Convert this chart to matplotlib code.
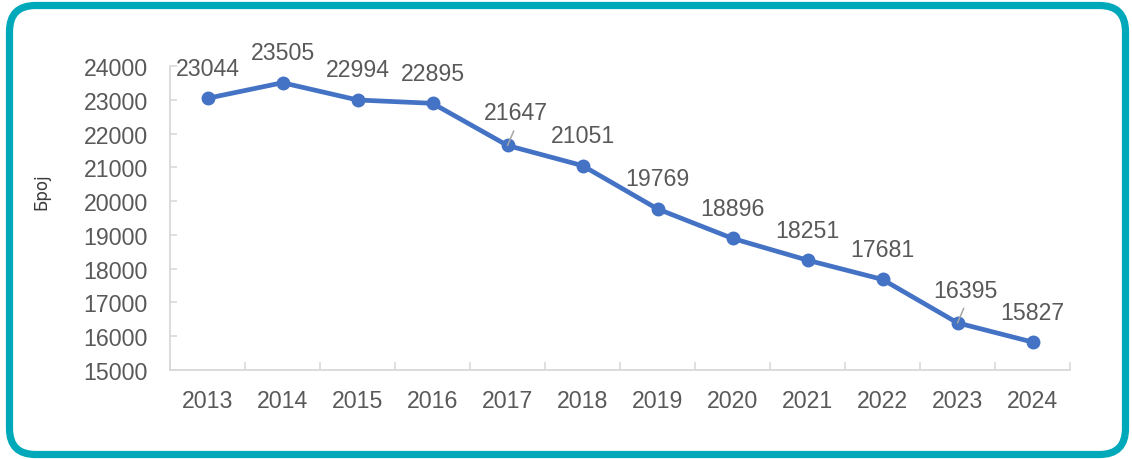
import matplotlib
matplotlib.use("Agg")
import matplotlib.pyplot as plt
from matplotlib.patches import FancyBboxPatch
from matplotlib.transforms import IdentityTransform

years = ["2013", "2014", "2015", "2016", "2017", "2018", "2019", "2020", "2021", "2022", "2023", "2024"]
values = [23044, 23505, 22994, 22895, 21647, 21051, 19769, 18896, 18251, 17681, 16395, 15827]
y_ticks = [15000, 16000, 17000, 18000, 19000, 20000, 21000, 22000, 23000, 24000]
y_label = "Број"

plt.rcParams['font.family'] = ['Liberation Sans', 'DejaVu Sans']

W, H, DPI = 1132, 460, 100
fig = plt.figure(figsize=(W / DPI, H / DPI), dpi=DPI)
fig.patch.set_facecolor('white')

# rounded teal border
border = FancyBboxPatch((9.5, 4.5), 1116, 449,
                        boxstyle="round,pad=0,rounding_size=26",
                        transform=IdentityTransform(), facecolor='none',
                        edgecolor='#00A9BA', linewidth=5.2)
fig.patches.append(border)

ax = fig.add_axes([170 / W, 89 / H, 900 / W, 304 / H])
x = list(range(len(years)))
line_color = '#4472C4'
ax.plot(x, values, color=line_color, linewidth=3.4, marker='o', markersize=9,
        solid_capstyle='round', zorder=3)

ax.set_xlim(-0.5, len(years) - 0.5)
ax.set_ylim(y_ticks[0], y_ticks[-1])
ax.set_yticks(y_ticks)
ax.set_yticklabels([str(t) for t in y_ticks])
ax.set_xticks(x)
ax.set_xticklabels(years)
ax.set_xticks([i + 0.5 for i in x[:-1]] + [-0.5, len(years) - 0.5], minor=True)

grey = '#d9d9d9'
text_grey = '#595959'
for s in ['top', 'right']:
    ax.spines[s].set_visible(False)
for s in ['left', 'bottom']:
    ax.spines[s].set_color(grey)
    ax.spines[s].set_linewidth(1.3)

ax.tick_params(axis='y', direction='in', length=5, width=1.2, color=grey,
               labelsize=16.7, labelcolor=text_grey, pad=16)
ax.tick_params(axis='x', which='major', length=0, labelsize=16.7,
               labelcolor=text_grey, pad=14)
ax.tick_params(axis='x', which='minor', direction='in', length=6, width=1.2, color=grey)

ax.set_ylabel(y_label, fontsize=12, color='#3a3a3a', family='DejaVu Sans')
ax.yaxis.set_label_coords(-0.133, 0.59)

for i, v in enumerate(values):
    if years[i] in ("2017", "2023"):
        ax.annotate(str(v), xy=(i, v), xytext=(5.8, 23.5), textcoords='offset points',
                    ha='center', va='center', fontsize=16.7, color=text_grey)
        ax.annotate('', xy=(i, v), xytext=(4.5, 10.5), textcoords='offset points',
                    arrowprops=dict(arrowstyle='-', color='#a6a6a6', lw=1.1,
                                    shrinkA=0, shrinkB=0), zorder=5)
    else:
        ax.annotate(str(v), xy=(i, v), xytext=(0, 21.6), textcoords='offset points',
                    ha='center', va='center', fontsize=16.7, color=text_grey)

fig.savefig("out.png", dpi=DPI)
